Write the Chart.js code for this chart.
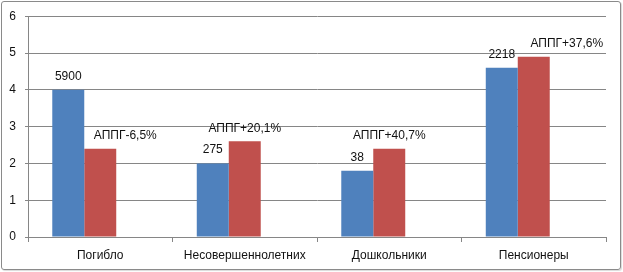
<!DOCTYPE html>
<html>
<head>
<meta charset="utf-8">
<script src="https://cdn.jsdelivr.net/npm/chart.js@4/dist/chart.umd.min.js"></script>
<style>
  html, body { margin: 0; padding: 0; background: #fff; }
  #wrap { position: relative; width: 623px; height: 272px; }
  #c { position: absolute; left: 0; top: 0; }
  #frame { position: absolute; left: 1px; top: 1px; width: 618px; height: 267px;
           border: 1px solid #8a8a8a; border-radius: 3px; pointer-events: none;
           box-shadow: 1px 1px 1px rgba(0,0,0,0.15); }
</style>
</head>
<body>
<div id="wrap">
  <canvas id="c" width="623" height="272"></canvas>
  <div id="frame"></div>
</div>
<script>
const categories = ['Погибло', 'Несовершеннолетних', 'Дошкольники', 'Пенсионеры'];
const currentValues = [4.0, 2.0, 1.8, 4.6];
const previousValues = [2.4, 2.6, 2.4, 4.9];
const emptySeries = [null, null, null, null];
const currentLabels = ['5900', '275', '38', '2218'];
const previousLabels = ['АППГ-6,5%', 'АППГ+20,1%', 'АППГ+40,7%', 'АППГ+37,6%'];
const yTicks = [0, 1, 2, 3, 4, 5, 6];

const FONT = '"Liberation Sans", Arial, sans-serif';
const previousLabelShift = [25, 0, 0, 33];

const labelPlugin = {
  id: 'barLabels',
  afterDatasetsDraw(chart) {
    const ctx = chart.ctx;
    ctx.save();
    ctx.font = '12px ' + FONT;
    ctx.fillStyle = '#111';
    ctx.textAlign = 'center';
    ctx.textBaseline = 'middle';
    const m0 = chart.getDatasetMeta(0);
    const m1 = chart.getDatasetMeta(1);
    m0.data.forEach((bar, i) => {
      ctx.fillText(currentLabels[i], bar.x, bar.y - 13.5);
    });
    m1.data.forEach((bar, i) => {
      ctx.fillText(previousLabels[i], bar.x + previousLabelShift[i], bar.y - 13);
    });
    ctx.restore();
  }
};

new Chart(document.getElementById('c'), {
  type: 'bar',
  data: {
    labels: categories,
    datasets: [
      { label: 'Текущий', data: currentValues, backgroundColor: '#4F81BD' },
      { label: 'АППГ', data: previousValues, backgroundColor: '#C0504D' },
      { label: '', data: emptySeries, backgroundColor: '#9BBB59' }
    ]
  },
  options: {
    responsive: false,
    animation: false,
    devicePixelRatio: 1,
    categoryPercentage: 0.664,
    barPercentage: 1,
    layout: { padding: { left: 0, top: 15, right: 17, bottom: 0 } },
    plugins: { legend: { display: false }, tooltip: { enabled: false } },
    scales: {
      x: {
        grid: { display: true, drawOnChartArea: false, drawTicks: true, tickLength: 5, color: '#868686', offset: true },
        border: { display: true, color: '#868686', width: 1 },
        ticks: { font: { family: FONT, size: 12 }, color: '#111', padding: 6, maxRotation: 0 },
        afterFit(scale) { scale.height = 35; }
      },
      y: {
        min: 0, max: 6,
        afterBuildTicks(scale) { scale.ticks = yTicks.map(v => ({ value: v })); },
        grid: { color: '#868686', tickLength: 3, drawTicks: true },
        border: { display: true, color: '#868686', width: 1 },
        ticks: { font: { family: FONT, size: 12 }, color: '#111', padding: 9 },
        afterFit(scale) { scale.width = 28; }
      }
    }
  },
  plugins: [labelPlugin]
});
</script>
</body>
</html>
